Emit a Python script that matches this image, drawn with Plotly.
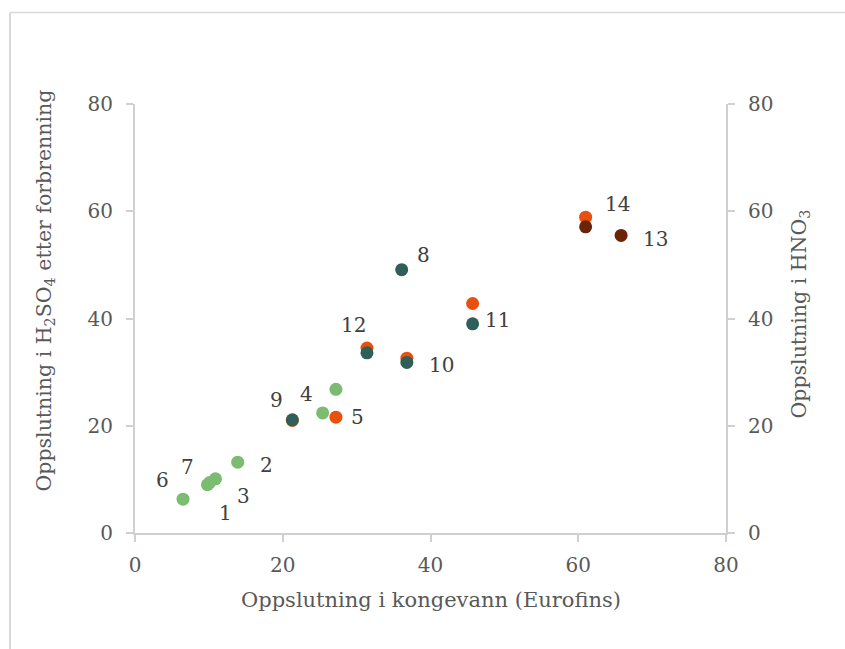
import plotly.graph_objects as go

# Sample numbers and results (digestion in aqua regia vs. H2SO4 after combustion / HNO3)
green_ids = ["1", "2", "3", "4", "5", "6", "7"]
green_x = [9.8, 13.9, 10.9, 25.4, 27.2, 6.5, 10.1]
green_y = [9.0, 13.2, 10.1, 22.4, 26.8, 6.3, 9.4]

teal_ids = ["8", "9", "10", "11", "12"]
teal_x = [36.1, 21.3, 36.8, 45.7, 31.4]
teal_y = [49.1, 21.1, 31.8, 39.0, 33.6]

brown_ids = ["13", "14"]
brown_x = [65.8, 61.0]
brown_y = [55.5, 57.1]

hno3_ids = ["5", "9", "10", "11", "12", "14"]
hno3_x = [27.2, 21.3, 36.8, 45.7, 31.4, 61.0]
hno3_y = [21.6, 21.0, 32.6, 42.8, 34.5, 58.9]

axis_ticks = [0, 20, 40, 60, 80]

# label offsets (pixels) for each sample number, relative to its H2SO4 point
label_offsets = {
    "1": (18, -28), "2": (29, -3), "3": (28, -17), "4": (-16, 19),
    "5": (22, -28), "6": (-21, 19), "7": (-22, 16), "8": (22, 15),
    "9": (-16, 20), "10": (35, -3), "11": (25, 4), "12": (-13, 28),
    "13": (34, -4), "14": (32, 23),
}

GREEN = "#7BBB72"
TEAL = "#2F5F58"
BROWN = "#6B2408"
ORANGE = "#E9500E"
SERIF = "DejaVu Serif, Georgia, serif"
AXIS_TXT = "#595959"
LABEL_TXT = "#404040"
LINE = "#D0D0D0"

fig = go.Figure()

marker_common = dict(size=13, line=dict(width=0))

# HNO3 first so the H2SO4 points sit on top of it
fig.add_trace(go.Scatter(x=hno3_x, y=hno3_y, mode="markers",
                         marker=dict(color=ORANGE, **marker_common),
                         name="HNO3", showlegend=False))
fig.add_trace(go.Scatter(x=green_x, y=green_y, mode="markers",
                         marker=dict(color=GREEN, **marker_common),
                         showlegend=False))
fig.add_trace(go.Scatter(x=teal_x, y=teal_y, mode="markers",
                         marker=dict(color=TEAL, **marker_common),
                         showlegend=False))
fig.add_trace(go.Scatter(x=brown_x, y=brown_y, mode="markers",
                         marker=dict(color=BROWN, **marker_common),
                         showlegend=False))
# secondary (HNO3) axis carrier
fig.add_trace(go.Scatter(x=[None], y=[None], yaxis="y2", showlegend=False,
                         hoverinfo="skip"))

annotations = []
for ids, xs, ys in [(green_ids, green_x, green_y),
                    (teal_ids, teal_x, teal_y),
                    (brown_ids, brown_x, brown_y)]:
    for i, x, y in zip(ids, xs, ys):
        dx, dy = label_offsets[i]
        annotations.append(dict(x=x, y=y, xref="x", yref="y", text=i,
                                showarrow=False, xshift=dx, yshift=dy,
                                xanchor="center", yanchor="middle",
                                font=dict(family=SERIF, size=20, color=LABEL_TXT)))

# axis titles
annotations.append(dict(x=0.5, y=0, xref="paper", yref="paper", yshift=-67,
                        xanchor="center", yanchor="middle",
                        text="Oppslutning i kongevann (Eurofins)", showarrow=False,
                        font=dict(family=SERIF, size=21, color=AXIS_TXT)))
annotations.append(dict(x=0, y=0.5, xref="paper", yref="paper", xshift=-91, yshift=28,
                        xanchor="center", yanchor="middle",
                        text="Oppslutning i H<sub>2</sub>SO<sub>4</sub> etter forbrenning",
                        textangle=-90, showarrow=False,
                        font=dict(family=SERIF, size=20.5, color=AXIS_TXT)))
annotations.append(dict(x=1, y=0.5, xref="paper", yref="paper", xshift=73, yshift=4,
                        xanchor="center", yanchor="middle",
                        text="Oppslutning i HNO<sub>3</sub>",
                        textangle=-90, showarrow=False,
                        font=dict(family=SERIF, size=20.5, color=AXIS_TXT)))

axis_common = dict(range=[0, 80], tickvals=axis_ticks, showgrid=False, zeroline=False,
                   showline=True, linecolor=LINE, linewidth=2, ticks="outside",
                   ticklen=7, tickwidth=2, tickcolor=LINE, fixedrange=True,
                   tickfont=dict(family=SERIF, size=20, color=AXIS_TXT))

fig.update_layout(
    width=845, height=649,
    margin=dict(l=135, r=119, t=104, b=116),
    paper_bgcolor="white", plot_bgcolor="white",
    xaxis=dict(**axis_common, ticklabelstandoff=6),
    yaxis=dict(**axis_common, ticklabelstandoff=9),
    yaxis2=dict(**axis_common, overlaying="y", side="right", ticklabelstandoff=9),
    annotations=annotations,
    shapes=[
        dict(type="line", xref="paper", yref="paper", x0=-0.2115, x1=2,
             y0=1.2133, y1=1.2133, line=dict(color="#D9D9D9", width=1.5)),
        dict(type="line", xref="paper", yref="paper", x0=-0.2115, x1=-0.2115,
             y0=-2, y1=1.2133, line=dict(color="#D9D9D9", width=2)),
    ],
)

fig.write_html("out.html")
